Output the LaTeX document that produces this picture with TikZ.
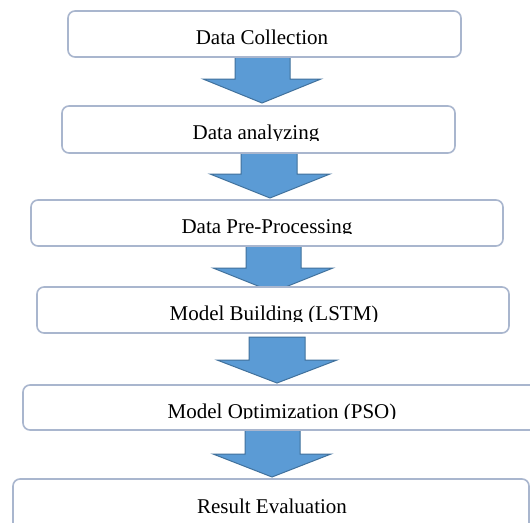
\documentclass[tikz,border=0pt]{standalone}
\usepackage{fontspec}
\setmainfont{Liberation Serif}
\definecolor{boxline}{HTML}{A9B6CE}
\definecolor{arrfill}{HTML}{5B9BD5}
\definecolor{arrline}{HTML}{41719C}
\tikzset{
  stagebox/.style={draw=boxline, line width=1.6pt, rounded corners=7pt, fill=white, inner sep=0pt},
  stagelabel/.style={anchor=base, inner sep=0pt, font=\fontsize{21}{24}\selectfont},
  blockarrow/.style={fill=arrfill, draw=arrline, line width=1pt, line join=miter}
}
\newcommand{\blockarr}[7]{% shaft left, shaft right, top, shoulder, head left, head right, tip y ; tip x = mid of head
  \draw[blockarrow] (#1,#3) -- (#2,#3) -- (#2,#4) -- (#6,#4) -- ({(#5+#6)/2},#7) -- (#5,#4) -- (#1,#4) -- cycle;}
\begin{document}
\begin{tikzpicture}[x=1pt,y=-1pt]
\useasboundingbox (0,0) rectangle (530,522);
\fill[white] (0,0) rectangle (530,522);
% block arrows (drawn below boxes)
\blockarr{235}{290}{57}{79}{203}{321}{103}
\blockarr{241}{297}{151}{174}{210}{330}{198}
\blockarr{246}{301}{244}{268}{213}{333}{292}
\blockarr{249}{305}{337}{360}{217}{337}{383}
\blockarr{245}{300}{430}{454}{213}{331}{477}
% boxes
\node[stagebox, minimum width=393pt, minimum height=46pt] (b1) at (264.5,34) {};
\node[stagebox, minimum width=393pt, minimum height=47pt] (b2) at (258.5,129.5) {};
\node[stagebox, minimum width=472pt, minimum height=46pt] (b3) at (267,223) {};
\node[stagebox, minimum width=472pt, minimum height=46pt] (b4) at (273,310) {};
\node[stagebox, minimum width=537pt, minimum height=45pt] (b5) at (291.5,407.5) {};
\node[stagebox, minimum width=516pt, minimum height=81pt] (b6) at (271,519.5) {};
% labels
\node[stagelabel] (t1) at (262,44.5) {Data Collection};
\begin{scope}
  \clip (0,100) rectangle (530,140);
  \node[stagelabel] (t2) at (256,139.5) {Data analyzing};
\end{scope}
\begin{scope}
  \clip (0,195) rectangle (530,233.5);
  \node[stagelabel] (t3) at (267,233) {Data Pre-Processing};
\end{scope}
\begin{scope}
  \clip (0,280) rectangle (530,321);
  \node[stagelabel] (t4) at (274,320.5) {Model Building (LSTM)};
\end{scope}
\begin{scope}
  \clip (0,380) rectangle (530,418.5);
  \node[stagelabel] (t5) at (282,418) {Model Optimization (PSO)};
\end{scope}
\node[stagelabel] (t6) at (272,513) {Result Evaluation};
\end{tikzpicture}
\end{document}
